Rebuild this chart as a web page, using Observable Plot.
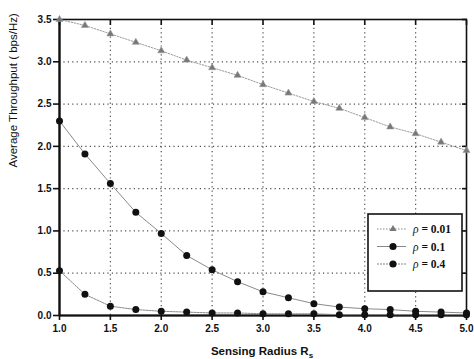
<!DOCTYPE html>
<html>
<head>
<meta charset="utf-8">
<script src="https://cdn.jsdelivr.net/npm/d3@7"></script>
<script src="https://cdn.jsdelivr.net/npm/@observablehq/plot@0.6"></script>
<style>
  html, body { margin: 0; padding: 0; background: #fff; }
  #chart { position: relative; width: 474px; height: 359px; }
</style>
</head>
<body>
<div id="chart"></div>
<script>
const radius = [1.0, 1.25, 1.5, 1.75, 2.0, 2.25, 2.5, 2.75, 3.0, 3.25, 3.5, 3.75, 4.0, 4.25, 4.5, 4.75, 5.0];
const rho001 = [3.50, 3.43, 3.33, 3.23, 3.13, 3.02, 2.93, 2.84, 2.73, 2.63, 2.53, 2.45, 2.34, 2.23, 2.15, 2.05, 1.95];
const rho01  = [2.30, 1.91, 1.56, 1.22, 0.97, 0.71, 0.54, 0.40, 0.28, 0.21, 0.14, 0.10, 0.08, 0.07, 0.05, 0.04, 0.03];
const rho04  = [0.53, 0.25, 0.11, 0.07, 0.05, 0.04, 0.03, 0.03, 0.02, 0.02, 0.02, 0.01, 0.01, 0.01, 0.01, 0.01, 0.01];
const seriesNames = ["ρ = 0.01", "ρ = 0.1", "ρ = 0.4"];
const xTicks = [1.0, 1.5, 2.0, 2.5, 3.0, 3.5, 4.0, 4.5, 5.0];
const yTicks = [0.0, 0.5, 1.0, 1.5, 2.0, 2.5, 3.0, 3.5];
const xGrid = [1.5, 2.0, 2.5, 3.0, 3.5, 4.0, 4.5];
const yGrid = [0.5, 1.0, 1.5, 2.0, 2.5, 3.0];

const s1 = radius.map((r, i) => ({r, v: rho001[i]}));
const s2 = radius.map((r, i) => ({r, v: rho01[i]}));
const s3 = radius.map((r, i) => ({r, v: rho04[i]}));

const font = "'Liberation Sans', Arial, sans-serif";

const plot = Plot.plot({
  width: 474,
  height: 359,
  marginLeft: 59,
  marginRight: 8,
  marginTop: 19,
  marginBottom: 44,
  style: {fontFamily: font, fontSize: "10px", fontWeight: "bold", background: "#fff", color: "#111"},
  x: {domain: [1, 5]},
  y: {domain: [0, 3.5]},
  marks: [
    Plot.gridX(xGrid, {stroke: "#222", strokeOpacity: 0.8, strokeDasharray: "1.2,3.2", strokeWidth: 1.2}),
    Plot.gridY(yGrid, {stroke: "#222", strokeOpacity: 0.8, strokeDasharray: "1.2,3.2", strokeWidth: 1.2}),
    Plot.frame({stroke: "#111", strokeWidth: 1.6}),
    Plot.ruleX([1], {stroke: "#111", strokeWidth: 2.2}),
    Plot.ruleY([0], {stroke: "#111", strokeWidth: 2}),
    Plot.axisX({ticks: xTicks, tickFormat: ".1f", tickSize: 5, tickPadding: 4, label: null, stroke: "#111", strokeWidth: 1.6, fontWeight: "bold", fontSize: 10}),
    Plot.axisX({anchor: "top", ticks: xTicks, tickSize: -5, tickFormat: () => "", label: null, stroke: "#111", strokeWidth: 1.6}),
    Plot.axisY({ticks: yTicks, tickFormat: ".1f", tickSize: 6, tickPadding: 2, label: null, stroke: "#111", strokeWidth: 1.6, fontWeight: "bold", fontSize: 10}),
    Plot.axisY({anchor: "right", ticks: yTicks, tickSize: -5, tickFormat: () => "", label: null, stroke: "#111", strokeWidth: 1.6}),
    Plot.line(s1, {x: "r", y: "v", stroke: "#9a9a9a", strokeWidth: 1, strokeDasharray: "1.5,1.5"}),
    Plot.line(s2, {x: "r", y: "v", stroke: "#8a8a8a", strokeWidth: 1}),
    Plot.line(s3, {x: "r", y: "v", stroke: "#8a8a8a", strokeWidth: 1, strokeDasharray: "2,1"}),
    Plot.dot(s1, {x: "r", y: "v", symbol: "triangle", r: 2.6, fill: "#777", stroke: "#999", strokeWidth: 0.6}),
    Plot.dot(s2, {x: "r", y: "v", symbol: "circle", r: 3.5, fill: "#111"}),
    Plot.dot(s3, {x: "r", y: "v", symbol: "circle", r: 3.5, fill: "#111"}),
    Plot.text(["Average Throughput ( bps/Hz)"], {frameAnchor: "left", rotate: -90, dx: -46, fontSize: 11.5, fontWeight: "normal", fill: "#111", fontFamily: font})
  ]
});

document.getElementById("chart").appendChild(plot);

// x axis title with subscript
const svg = d3.select(plot);
const xt = svg.append("text")
  .attr("x", 262).attr("y", 355)
  .attr("text-anchor", "middle")
  .attr("font-family", font).attr("font-size", 11.5).attr("font-weight", "bold").attr("fill", "#111");
xt.append("tspan").text("Sensing Radius R");
xt.append("tspan").attr("font-size", 8).attr("dy", 3).text("s");

// legend
const lg = svg.append("g").attr("transform", "translate(368,214)");
lg.append("rect").attr("width", 94).attr("height", 77).attr("fill", "#fff").attr("stroke", "#111").attr("stroke-width", 1.6);
const legendStyles = [
  {dash: "1.5,1.5", sym: "triangle", fill: "#777"},
  {dash: null, sym: "circle", fill: "#111"},
  {dash: "2,1", sym: "circle", fill: "#111"}
];
seriesNames.forEach((name, i) => {
  const yy = 15 + i * 17.5;
  lg.append("line").attr("x1", 9).attr("x2", 38).attr("y1", yy).attr("y2", yy)
    .attr("stroke", "#888").attr("stroke-width", 1).attr("stroke-dasharray", legendStyles[i].dash);
  const sym = legendStyles[i].sym === "triangle" ? d3.symbolTriangle : d3.symbolCircle;
  lg.append("path").attr("transform", `translate(25,${yy})`)
    .attr("d", d3.symbol(sym, legendStyles[i].sym === "triangle" ? 22 : 40)())
    .attr("fill", legendStyles[i].fill);
  const t = lg.append("text").attr("x", 45).attr("y", yy + 4)
    .attr("text-anchor", "start")
    .attr("font-family", "'Liberation Serif', 'Times New Roman', serif")
    .attr("font-size", 11.5).attr("font-weight", "bold").attr("fill", "#111");
  const parts = name.split(" = ");
  t.append("tspan").attr("font-style", "italic").attr("font-weight", "normal").text(parts[0]);
  t.append("tspan").text(" = " + parts[1]);
});
</script>
</body>
</html>
